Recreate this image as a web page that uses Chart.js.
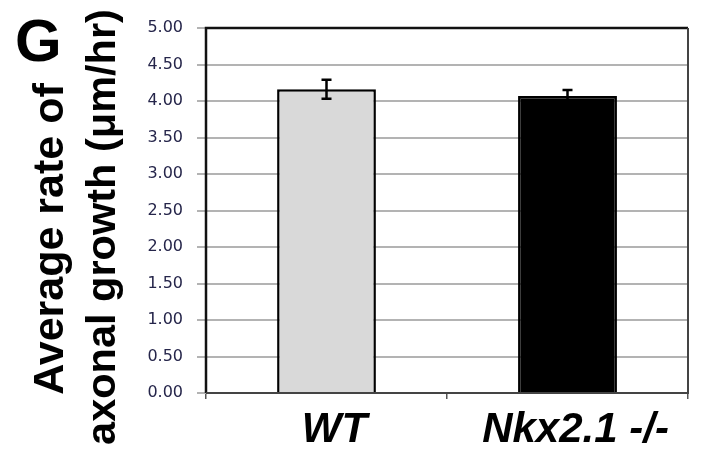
<!DOCTYPE html>
<html>
<head>
<meta charset="utf-8">
<script src="https://cdn.jsdelivr.net/npm/chart.js@4.4.0/dist/chart.umd.min.js"></script>
<style>
  html, body { margin: 0; padding: 0; background: #fff; }
  #wrap { width: 702px; height: 458px; position: relative; }
</style>
</head>
<body>
<div id="wrap"><canvas id="rateChart"></canvas></div>
<script>
// data
const categories = ['WT', 'Nkx2.1 -/-'];
const rates = [4.16, 4.07];
const errors = [0.13, 0.08];
const barColors = ['#d9d9d9', '#000000'];
const yTickValues = [0, 0.5, 1, 1.5, 2, 2.5, 3, 3.5, 4, 4.5, 5];
const yTitle = ['Average rate of', 'axonal growth (\u03bcm/hr)'];
const panelLetter = 'G';

// error bars on top of each bar
const errorBars = {
  id: 'errorBars',
  afterDatasetsDraw(chart) {
    const ctx = chart.ctx;
    const y = chart.scales.y;
    const meta = chart.getDatasetMeta(0);
    ctx.save();
    ctx.strokeStyle = '#000';
    ctx.lineWidth = 2.5;
    meta.data.forEach((bar, i) => {
      const top = y.getPixelForValue(rates[i] + errors[i]);
      const bot = y.getPixelForValue(rates[i] - errors[i]);
      ctx.beginPath();
      ctx.moveTo(bar.x, top); ctx.lineTo(bar.x, bot);
      ctx.moveTo(bar.x - 5, top); ctx.lineTo(bar.x + 5, top);
      ctx.moveTo(bar.x - 5, bot); ctx.lineTo(bar.x + 5, bot);
      ctx.stroke();
    });
    ctx.restore();
  }
};

// plot frame (excel style box)
const plotFrame = {
  id: 'plotFrame',
  beforeDatasetsDraw(chart) {
    const { ctx, chartArea: a } = chart;
    ctx.save();
    ctx.lineWidth = 2.5;
    ctx.strokeStyle = '#111';
    ctx.beginPath();
    ctx.moveTo(a.left, a.bottom); ctx.lineTo(a.left, a.top); ctx.lineTo(a.right, a.top);
    ctx.stroke();
    ctx.lineWidth = 2;
    ctx.strokeStyle = '#444';
    ctx.beginPath();
    ctx.moveTo(a.right, a.top); ctx.lineTo(a.right, a.bottom); ctx.lineTo(a.left, a.bottom);
    ctx.stroke();
    ctx.restore();
  }
};

// panel letter + two line rotated y title
const sideText = {
  id: 'sideText',
  afterDraw(chart) {
    const ctx = chart.ctx;
    ctx.save();
    ctx.fillStyle = '#000';
    ctx.font = 'bold 60px "Liberation Sans", Arial, sans-serif';
    ctx.textAlign = 'left';
    ctx.textBaseline = 'alphabetic';
    ctx.fillText(panelLetter, 15, 61);

    ctx.textAlign = 'center';
    ctx.save();
    ctx.translate(63, 239);
    ctx.rotate(-Math.PI / 2);
    ctx.font = 'bold 43px "Liberation Sans", Arial, sans-serif';
    ctx.fillText(yTitle[0], 0, 0);
    ctx.restore();

    ctx.save();
    ctx.translate(115, 227);
    ctx.rotate(-Math.PI / 2);
    ctx.font = 'bold 41.5px "Liberation Sans", Arial, sans-serif';
    ctx.fillText(yTitle[1], 0, 0);
    ctx.restore();
    ctx.restore();
  }
};

const ctx = document.getElementById('rateChart').getContext('2d');
const chart = new Chart(ctx, {
  type: 'bar',
  data: {
    labels: categories,
    datasets: [{
      data: rates,
      backgroundColor: barColors,
      borderColor: '#000',
      borderWidth: 2.5,
      barPercentage: 0.41,
      categoryPercentage: 1
    }]
  },
  options: {
    responsive: true,
    maintainAspectRatio: false,
    animation: false,
    layout: { padding: { top: 28, right: 14, bottom: 0, left: 0 } },
    plugins: {
      legend: { display: false },
      tooltip: { enabled: false }
    },
    scales: {
      x: {
        offset: true,
        afterFit(scale) { scale.height = 65; },
        grid: { drawOnChartArea: false, drawTicks: true, tickLength: 6, color: '#555', lineWidth: 1.5, offset: true },
        border: { display: false },
        ticks: {
          color: '#000',
          padding: 6,
          labelOffset: 8,
          font: { family: '"Liberation Sans", Arial, sans-serif', size: 42, weight: 'bold', style: 'italic' }
        }
      },
      y: {
        min: 0,
        max: 5,
        afterFit(scale) { scale.width = 206; },
        afterBuildTicks(scale) { scale.ticks = yTickValues.map(v => ({ value: v })); },
        grid: { color: '#b3b3b3', lineWidth: 2, tickLength: 9 },
        border: { display: false },
        ticks: {
          color: '#25254a',
          padding: 14,
          font: { family: '"DejaVu Sans", Verdana, sans-serif', size: 16 },
          callback: v => v.toFixed(2)
        }
      }
    }
  },
  plugins: [errorBars, plotFrame, sideText]
});
</script>
</body>
</html>
